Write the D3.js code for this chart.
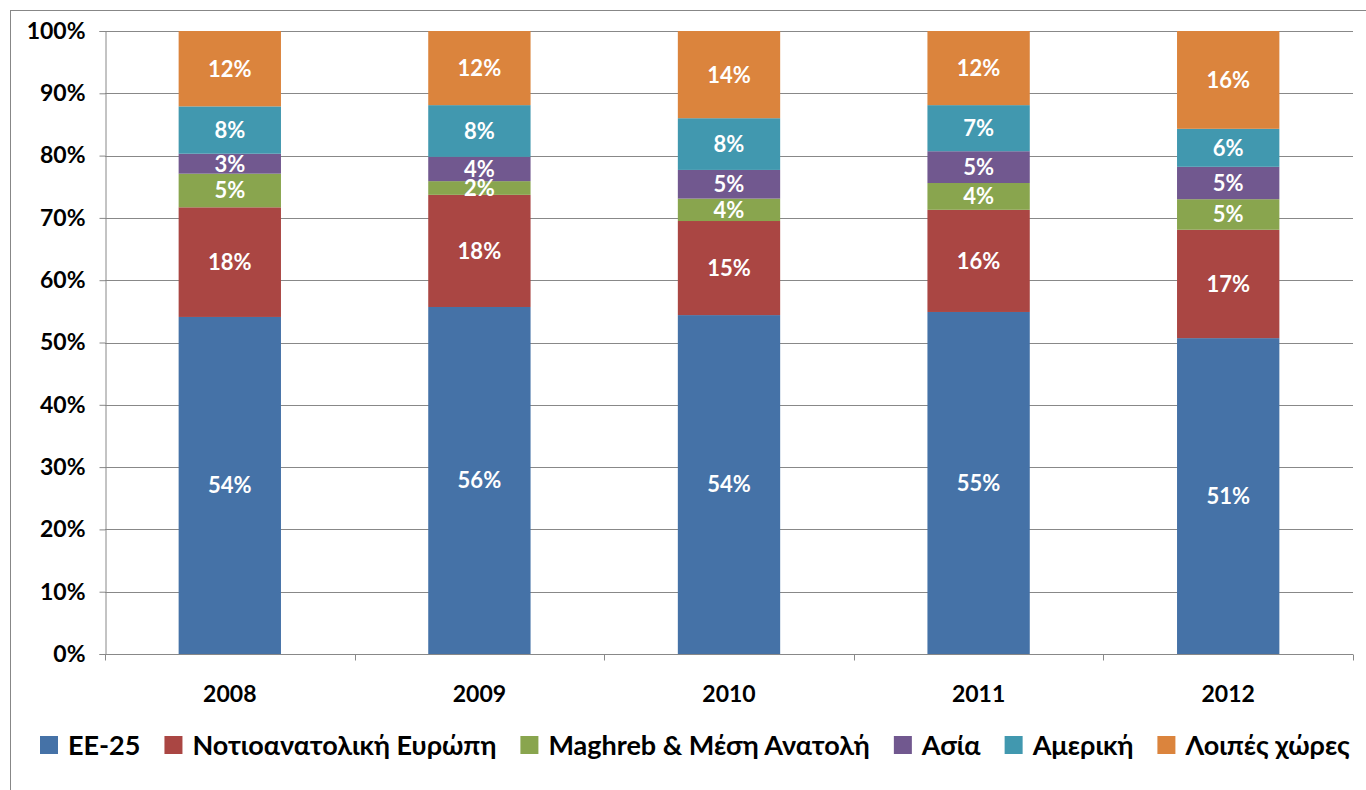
<!DOCTYPE html>
<html>
<head>
<meta charset="utf-8">
<script src="https://cdn.jsdelivr.net/npm/d3@7"></script>
<style>
  html, body { margin: 0; padding: 0; background: #fff; overflow: hidden; }
  text { font-family: Lato, "Open Sans", sans-serif; font-weight: bold; }
</style>
</head>
<body>
<div id="chart"></div>
<script>
const width = 1366;
const height = 790;

const years = ["2008", "2009", "2010", "2011", "2012"];
const seriesNames = ["ΕΕ-25", "Νοτιοανατολική Ευρώπη", "Maghreb & Μέση Ανατολή", "Ασία", "Αμερική", "Λοιπές χώρες"];
const seriesColors = ["#4572A7", "#AA4643", "#89A54E", "#71588F", "#4198AF", "#DB843D"];

// shares per year (%)
const ee25 = [54.1, 55.7, 54.4, 54.9, 50.7];
const seEurope = [17.6, 18.0, 15.1, 16.4, 17.4];
const maghreb = [5.4, 2.2, 3.6, 4.3, 4.9];
const asia = [3.2, 3.9, 4.6, 5.1, 5.2];
const america = [7.6, 8.3, 8.3, 7.4, 6.1];
const others = [12.1, 11.9, 14.0, 11.9, 15.7];

const yTicks = [0, 10, 20, 30, 40, 50, 60, 70, 80, 90, 100];

const margin = {top: 31, left: 105, right: 13, bottom: 136};

const svg = d3.select("#chart").append("svg")
    .attr("width", width)
    .attr("height", height);

// chart frame (runs past the window on the right and bottom)
svg.append("rect")
    .attr("x", 10.5).attr("y", 10.5)
    .attr("width", 1400).attr("height", 800)
    .attr("fill", "none")
    .attr("stroke", "#878787");

const table = years.map((y, i) => ({
    year: y,
    s0: ee25[i], s1: seEurope[i], s2: maghreb[i], s3: asia[i], s4: america[i], s5: others[i]
}));
const keys = seriesNames.map((d, i) => "s" + i);
const stacked = d3.stack().keys(keys)(table);

const x = d3.scaleBand()
    .domain(years)
    .range([margin.left, width - margin.right])
    .paddingInner(0.59)
    .paddingOuter(0.295);

const y = d3.scaleLinear()
    .domain([0, 100])
    .range([height - margin.bottom, margin.top]);

// gridlines
svg.append("g")
  .selectAll("line")
  .data(yTicks.filter(d => d > 0))
  .join("line")
    .attr("x1", margin.left)
    .attr("x2", width - margin.right)
    .attr("y1", d => Math.round(y(d)) + 0.5)
    .attr("y2", d => Math.round(y(d)) + 0.5)
    .attr("stroke", "#888")
    .attr("stroke-width", 1.2);

// bars
svg.append("g")
  .selectAll("g")
  .data(stacked)
  .join("g")
    .attr("fill", (d, i) => seriesColors[i])
  .selectAll("rect")
  .data(d => d)
  .join("rect")
    .attr("x", d => x(d.data.year))
    .attr("width", x.bandwidth())
    .attr("y", d => y(d[1]))
    .attr("height", d => y(d[0]) - y(d[1]));

// value labels
svg.append("g")
  .selectAll("g")
  .data(stacked)
  .join("g")
  .selectAll("text")
  .data(d => d)
  .join("text")
    .attr("x", d => x(d.data.year) + x.bandwidth() / 2)
    .attr("y", d => (y(d[0]) + y(d[1])) / 2)
    .attr("dy", "0.36em")
    .attr("text-anchor", "middle")
    .attr("fill", "#fff")
    .attr("font-size", 22)
    .text(d => Math.round(d[1] - d[0]) + "%");

// y axis
const yAxis = svg.append("g")
    .attr("transform", `translate(${margin.left + 0.5},0)`)
    .call(d3.axisLeft(y).tickValues(yTicks).tickFormat(d => d + "%").tickSize(6).tickPadding(14));
yAxis.selectAll("text").attr("font-size", 23).attr("fill", "#000")
    .style("font-family", "Lato, sans-serif").style("font-weight", "bold");
yAxis.selectAll("line, path").attr("stroke", "#888");

// x axis
const xBottom = height - margin.bottom;
const xAxisG = svg.append("g")
    .attr("transform", `translate(0,${Math.round(xBottom) + 0.5})`);
xAxisG.append("line")
    .attr("x1", margin.left).attr("x2", width - margin.right)
    .attr("stroke", "#888").attr("stroke-width", 1.2);
xAxisG.selectAll("line.tick")
  .data(d3.range(years.length + 1))
  .join("line")
    .attr("class", "tick")
    .attr("x1", i => Math.round(margin.left + i * (width - margin.left - margin.right) / years.length) + 0.5)
    .attr("x2", i => Math.round(margin.left + i * (width - margin.left - margin.right) / years.length) + 0.5)
    .attr("y1", 0).attr("y2", 6)
    .attr("stroke", "#888");
xAxisG.selectAll("text")
  .data(years)
  .join("text")
    .attr("x", d => x(d) + x.bandwidth() / 2)
    .attr("y", 39)
    .attr("dy", "0.36em")
    .attr("text-anchor", "middle")
    .attr("font-size", 23)
    .attr("fill", "#000")
    .text(d => d);

// legend
const legend = svg.append("g").attr("transform", "translate(40,745)");
let lx = 0;
seriesNames.forEach((name, i) => {
    const item = legend.append("g").attr("transform", `translate(${lx},0)`);
    item.append("rect")
        .attr("x", 0).attr("y", -9)
        .attr("width", 18).attr("height", 18)
        .attr("fill", seriesColors[i]);
    const t = item.append("text")
        .attr("x", 28)
        .attr("dy", "0.36em")
        .attr("font-size", 27)
        .attr("fill", "#000")
        .text(name);
    lx += 28 + t.node().getComputedTextLength() + 24;
});
</script>
</body>
</html>
